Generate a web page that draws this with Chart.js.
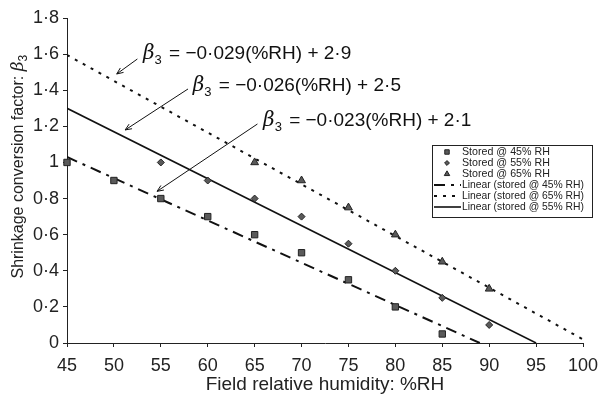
<!DOCTYPE html>
<html>
<head>
<meta charset="utf-8">
<script src="https://cdn.jsdelivr.net/npm/chart.js@4.4.1/dist/chart.umd.min.js"></script>
<style>
  html, body { margin: 0; padding: 0; background: #fff; }
  #wrap { width: 600px; height: 396px; }
</style>
</head>
<body>
<div id="wrap"><canvas id="chart" width="600" height="396"></canvas></div>
<script>
// measured points
const rh45 = [45, 50, 55, 60, 65, 70, 75, 80, 85];
const beta45 = [1.0, 0.9, 0.8, 0.7, 0.6, 0.5, 0.35, 0.2, 0.05];
const rh55 = [55, 60, 65, 70, 75, 80, 85, 90];
const beta55 = [1.0, 0.9, 0.8, 0.7, 0.55, 0.4, 0.25, 0.1];
const rh65 = [65, 70, 75, 80, 85, 90];
const beta65 = [1.0, 0.9, 0.75, 0.6, 0.45, 0.3];

// fitted lines (end points)
const fit45x = [45, 89];
const fit45y = [1.03, 0];
const fit65x = [45, 100];
const fit65y = [1.595, 0.02];
const fit55x = [45, 95];
const fit55y = [1.3, 0];

const yTicks = [0, 0.2, 0.4, 0.6, 0.8, 1, 1.2, 1.4, 1.6, 1.8];

// equation labels: [slope, intercept, text x, text y, arrow from x, y, arrow to x, y]
const equations = [
  ['0·029', '2·9', 53.1, 1.575, 52.5, 1.573, 50.3, 1.49],
  ['0·026', '2·5', 58.4, 1.395, 57.9, 1.407, 51.2, 1.18],
  ['0·023', '2·1', 65.9, 1.2, 65.3, 1.213, 54.6, 0.84]
];

const pts = (xs, ys) => xs.map((x, i) => ({ x: x, y: ys[i] }));

const markerFill = '#5a5a5a';
const markerEdge = '#222';

const annotations = {
  id: 'annotations',
  afterDatasetsDraw(chart) {
    const ctx = chart.ctx;
    const xs = chart.scales.x, ys = chart.scales.y;
    ctx.save();
    ctx.strokeStyle = '#111';
    ctx.fillStyle = '#111';
    ctx.lineWidth = 1;
    equations.forEach(e => {
      const x0 = xs.getPixelForValue(e[4]), y0 = ys.getPixelForValue(e[5]);
      const x1 = xs.getPixelForValue(e[6]), y1 = ys.getPixelForValue(e[7]);
      ctx.beginPath();
      ctx.moveTo(x0, y0);
      ctx.lineTo(x1, y1);
      ctx.stroke();
      const a = Math.atan2(y1 - y0, x1 - x0);
      ctx.beginPath();
      ctx.moveTo(x1 - 7 * Math.cos(a - 0.4), y1 - 7 * Math.sin(a - 0.4));
      ctx.lineTo(x1, y1);
      ctx.lineTo(x1 - 7 * Math.cos(a + 0.4), y1 - 7 * Math.sin(a + 0.4));
      ctx.stroke();

      let tx = xs.getPixelForValue(e[2]);
      const ty = ys.getPixelForValue(e[3]);
      ctx.textBaseline = 'alphabetic';
      ctx.textAlign = 'left';
      ctx.font = 'italic 20px "DejaVu Serif"';
      ctx.fillText('β', tx, ty);
      tx += ctx.measureText('β').width;
      ctx.font = '13px "Liberation Sans"';
      ctx.fillText('3', tx, ty + 5);
      tx += ctx.measureText('3').width + 2;
      ctx.font = '19px "Liberation Sans"';
      ctx.fillText(' = \u2212' + e[0] + '(%RH) + ' + e[1], tx, ty);
    });

    // y axis title
    ctx.save();
    ctx.translate(19, 166);
    ctx.rotate(-Math.PI / 2);
    ctx.textBaseline = 'middle';
    ctx.font = '16px "Liberation Sans"';
    const t1 = 'Shrinkage conversion factor: ';
    const w1 = ctx.measureText(t1).width;
    ctx.font = 'italic 17px "DejaVu Serif"';
    const wb = ctx.measureText('β').width;
    const total = w1 + wb + 8;
    let px = -total / 2;
    ctx.font = '16px "Liberation Sans"';
    ctx.fillStyle = '#222';
    ctx.fillText(t1, px, 0);
    px += w1;
    ctx.font = 'italic 17px "DejaVu Serif"';
    ctx.fillText('β', px, 0);
    px += wb;
    ctx.font = '12px "Liberation Sans"';
    ctx.fillText('3', px, 5);
    ctx.restore();

    // legend
    const lx = 432, ly = 145, lw = 160, lh = 72;
    ctx.fillStyle = '#fff';
    ctx.fillRect(lx, ly, lw, lh);
    ctx.strokeStyle = '#222';
    ctx.lineWidth = 1;
    ctx.strokeRect(lx + 0.5, ly + 0.5, lw, lh);
    ctx.textBaseline = 'middle';
    chart.data.datasets.forEach((ds, i) => {
      const cy = ly + 7 + i * 11;
      if (ds.showLine === false) {
        ctx.fillStyle = markerFill;
        ctx.strokeStyle = markerEdge;
        ctx.lineWidth = 1;
        Chart.helpers.drawPoint(ctx, {
          pointStyle: ds.pointStyle, radius: ds.pointRadius * 0.7,
          borderWidth: 1, rotation: 0
        }, lx + 15, cy);
      } else {
        ctx.save();
        ctx.strokeStyle = ds.borderColor;
        ctx.lineWidth = ds.borderWidth;
        ctx.setLineDash(ds.borderDash || []);
        ctx.beginPath();
        ctx.moveTo(lx + 2, cy);
        ctx.lineTo(lx + 29, cy);
        ctx.stroke();
        ctx.restore();
      }
      ctx.save();
      ctx.fillStyle = '#222';
      ctx.font = '11.5px "Liberation Sans"';
      ctx.translate(lx + 30, cy);
      const w = ctx.measureText(ds.label).width;
      ctx.scale(Math.min(1.25, 122 / w * (ds.showLine === false ? 0.72 : 1)), 1);
      ctx.fillText(ds.label, 0, 0);
      ctx.restore();
    });
    ctx.restore();
  }
};

new Chart(document.getElementById('chart'), {
  type: 'scatter',
  data: {
    datasets: [
      {
        label: 'Stored @ 45% RH', data: pts(rh45, beta45), showLine: false, clip: false,
        pointStyle: 'rect', pointRadius: 4.5, backgroundColor: markerFill, borderColor: markerEdge, borderWidth: 1
      },
      {
        label: 'Stored @ 55% RH', data: pts(rh55, beta55), showLine: false, clip: false,
        pointStyle: 'rectRot', pointRadius: 3.5, backgroundColor: markerFill, borderColor: markerEdge, borderWidth: 1
      },
      {
        label: 'Stored @ 65% RH', data: pts(rh65, beta65), showLine: false, clip: false,
        pointStyle: 'triangle', pointRadius: 4.5, backgroundColor: markerFill, borderColor: markerEdge, borderWidth: 1
      },
      {
        label: 'Linear (stored @ 45% RH)', data: pts(fit45x, fit45y), showLine: true,
        pointRadius: 0, borderColor: '#111', borderWidth: 2, borderDash: [11, 6, 3, 6]
      },
      {
        label: 'Linear (stored @ 65% RH)', data: pts(fit65x, fit65y), showLine: true,
        pointRadius: 0, borderColor: '#111', borderWidth: 2, borderDash: [3, 6]
      },
      {
        label: 'Linear (stored @ 55% RH)', data: pts(fit55x, fit55y), showLine: true,
        pointRadius: 0, borderColor: '#111', borderWidth: 1.6
      }
    ]
  },
  options: {
    responsive: false,
    animation: false,
    layout: { padding: { top: 18, right: 17, left: 0, bottom: 0 } },
    plugins: { legend: { display: false }, tooltip: { enabled: false } },
    scales: {
      x: {
        type: 'linear', min: 45, max: 100,
        afterFit: s => { s.height = 53; s.paddingLeft = 0; s.paddingRight = 0; },
        ticks: { stepSize: 5, color: '#222', font: { family: 'Liberation Sans', size: 18 }, padding: 8 },
        grid: { drawOnChartArea: false, drawTicks: true, tickLength: 4, color: '#222' },
        border: { color: '#222', width: 1 },
        title: { display: true, text: 'Field relative humidity: %RH', color: '#222', font: { family: 'Liberation Sans', size: 19 }, padding: { top: 0, bottom: 0 } }
      },
      y: {
        min: 0, max: 1.8,
        afterFit: s => { s.width = 67; },
        afterBuildTicks: s => { s.ticks = yTicks.map(v => ({ value: v })); },
        ticks: {
          color: '#222', font: { family: 'Liberation Sans', size: 18 }, padding: 4,
          callback: v => String(Math.round(v * 10) / 10).replace('.', '·')
        },
        grid: { drawOnChartArea: false, drawTicks: true, tickLength: 4, color: '#222' },
        border: { color: '#222', width: 1 }
      }
    }
  },
  plugins: [annotations]
});
</script>
</body>
</html>
